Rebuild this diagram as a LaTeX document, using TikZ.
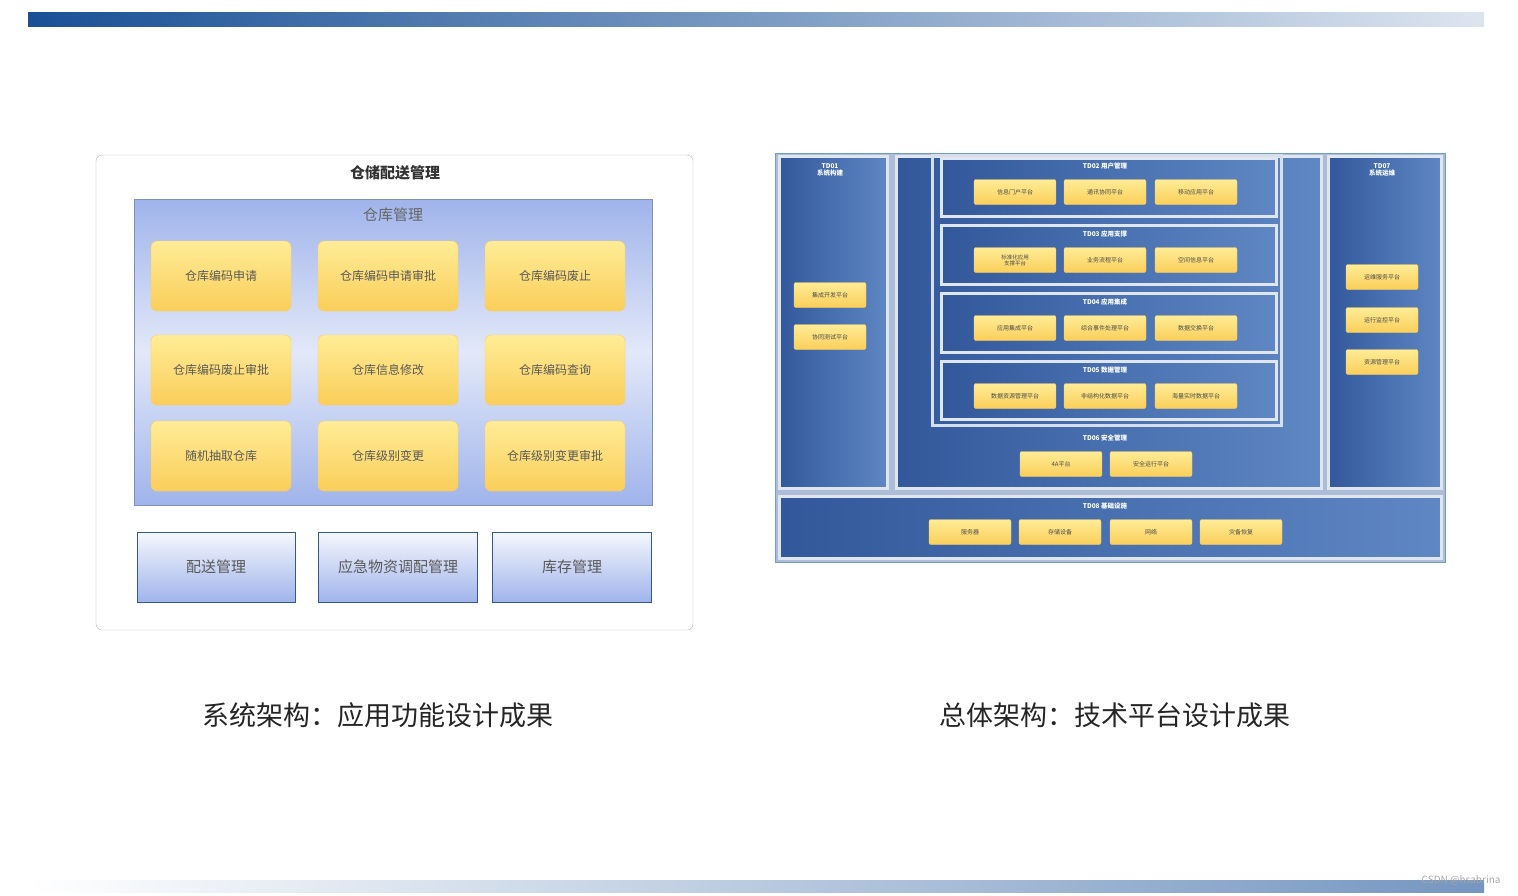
\documentclass[tikz,border=0pt]{standalone}
\usepackage{fontspec}
\setmainfont{Noto Sans CJK SC}
\usepackage{tikz}
\definecolor{ylight}{RGB}{255,236,150}
\definecolor{ydark}{RGB}{250,206,90}
\definecolor{pdark}{RGB}{50,88,155}
\definecolor{plight}{RGB}{95,135,195}
\definecolor{bdark}{RGB}{160,180,235}
\definecolor{barblue}{RGB}{25,80,150}
\tikzset{ybox/.style={draw=ydark, rounded corners=6, top color=ylight, bottom color=ydark, inner sep=0pt, text=black!65}}
\tikzset{bbox/.style={draw=pdark, top color=white!90!bdark, bottom color=bdark, inner sep=0pt, text=black!65}}
\tikzset{panel/.style={draw=white!85!pdark, line width=2.5pt, left color=pdark, right color=plight, inner sep=0pt}}
\tikzset{sbox/.style={draw=ydark, rounded corners=2, top color=ylight, bottom color=ydark, inner sep=0pt, minimum width=82, minimum height=25, text=black!70, font=\fontsize{6}{7}\selectfont}}
\tikzset{ttl/.style={text=white, font=\fontsize{6.5}{7}\selectfont\bfseries, align=center}}

\begin{document}
\begin{tikzpicture}[x=1pt, y=-1pt]
\useasboundingbox (0,0) rectangle (1518,895);
\fill[white] (0,0) rectangle (1518,895);

% bars
\shade[left color=barblue, right color=barblue!15] (28,12) rectangle (1484,26);
\shade[left color=white, right color=barblue!60] (28,880) rectangle (1484,892);

% left diagram
\draw[black!30, rounded corners=6, fill=white] (96,155) rectangle (693,630);
\node[text=black!80] (store) at (395,173) {\fontsize{15}{16}\selectfont\bfseries 仓储配送管理};
\shade[top color=bdark, bottom color=bdark, middle color=bdark!30] (134,199) rectangle (652,505);
\draw[bdark!80!black] (134,199) rectangle (652,505);
\node[text=black!60] (depot) at (393,215) {\fontsize{15}{16}\selectfont 仓库管理};

\node[ybox, minimum width=140, minimum height=70] (a1) at (221,276) {\fontsize{12}{14}\selectfont 仓库编码申请};
\node[ybox, minimum width=140, minimum height=70] (a2) at (388,276) {\fontsize{12}{14}\selectfont 仓库编码申请审批};
\node[ybox, minimum width=140, minimum height=70] (a3) at (555,276) {\fontsize{12}{14}\selectfont 仓库编码废止};
\node[ybox, minimum width=140, minimum height=70] (b1) at (221,370) {\fontsize{12}{14}\selectfont 仓库编码废止审批};
\node[ybox, minimum width=140, minimum height=70] (b2) at (388,370) {\fontsize{12}{14}\selectfont 仓库信息修改};
\node[ybox, minimum width=140, minimum height=70] (b3) at (555,370) {\fontsize{12}{14}\selectfont 仓库编码查询};
\node[ybox, minimum width=140, minimum height=70] (c1) at (221,456) {\fontsize{12}{14}\selectfont 随机抽取仓库};
\node[ybox, minimum width=140, minimum height=70] (c2) at (388,456) {\fontsize{12}{14}\selectfont 仓库级别变更};
\node[ybox, minimum width=140, minimum height=70] (c3) at (555,456) {\fontsize{12}{14}\selectfont 仓库级别变更审批};

\node[bbox, minimum width=158, minimum height=70] (deliv) at (216,567) {\fontsize{15}{16}\selectfont 配送管理};
\node[bbox, minimum width=159, minimum height=70] (emerg) at (398,567) {\fontsize{15}{16}\selectfont 应急物资调配管理};
\node[bbox, minimum width=159, minimum height=70] (stock) at (572,567) {\fontsize{15}{16}\selectfont 库存管理};

% right diagram
\draw[cyan!40!gray, line width=1pt, fill=white!60!pdark] (775,153) rectangle (1445,562);
\node[panel, minimum width=108, minimum height=332, anchor=north west] (td1) at (778,155) {};
\node[panel, minimum width=425, minimum height=332, anchor=north west] (mid) at (895,155) {};
\node[panel, minimum width=113, minimum height=332, anchor=north west] (td7) at (1327,155) {};
\node[panel, minimum width=662, minimum height=62, anchor=north west] (td8) at (778,495) {};
\draw[white!80!pdark, line width=3pt] (932,155) rectangle (1281,425);
\node[panel, minimum width=335, minimum height=58, anchor=north west] (td2) at (940,157) {};
\node[panel, minimum width=335, minimum height=59, anchor=north west] (td3) at (940,224) {};
\node[panel, minimum width=335, minimum height=59, anchor=north west] (td4) at (940,292) {};
\node[panel, minimum width=335, minimum height=58, anchor=north west] (td5) at (940,360) {};

\node[ttl] (t1) at (830,170) {TD01\\系统构建};
\node[ttl] (t7) at (1382,170) {TD07\\系统运维};
\node[ttl] (t2) at (1105,166) {TD02 用户管理};
\node[ttl] (t3) at (1105,234) {TD03 应用支撑};
\node[ttl] (t4) at (1105,302) {TD04 应用集成};
\node[ttl] (t5) at (1105,370) {TD05 数据管理};
\node[ttl] (t6) at (1105,438) {TD06 安全管理};
\node[ttl] (t8) at (1105,506) {TD08 基础设施};

\node[sbox, minimum width=72] (s11) at (830,295) {集成开发平台};
\node[sbox, minimum width=72] (s12) at (830,337) {协同测试平台};
\node[sbox] (s21) at (1015,192) {信息门户平台};
\node[sbox] (s22) at (1105,192) {通讯协同平台};
\node[sbox] (s23) at (1196,192) {移动应用平台};
\node[sbox, align=center, font=\fontsize{5.5}{6}\selectfont] (s31) at (1015,260) {标准化应用\\支撑平台};
\node[sbox] (s32) at (1105,260) {业务流程平台};
\node[sbox] (s33) at (1196,260) {空间信息平台};
\node[sbox] (s41) at (1015,328) {应用集成平台};
\node[sbox] (s42) at (1105,328) {综合事件处理平台};
\node[sbox] (s43) at (1196,328) {数据交换平台};
\node[sbox] (s51) at (1015,396) {数据资源管理平台};
\node[sbox] (s52) at (1105,396) {非结构化数据平台};
\node[sbox] (s53) at (1196,396) {海量实时数据平台};
\node[sbox] (s61) at (1061,464) {4A平台};
\node[sbox] (s62) at (1151,464) {安全运行平台};
\node[sbox, minimum width=72] (s71) at (1382,277) {运维服务平台};
\node[sbox, minimum width=72] (s72) at (1382,320) {运行监控平台};
\node[sbox, minimum width=72] (s73) at (1382,362) {资源管理平台};
\node[sbox] (s81) at (970,532) {服务器};
\node[sbox] (s82) at (1060,532) {存储设备};
\node[sbox] (s83) at (1151,532) {网络};
\node[sbox] (s84) at (1241,532) {灾备恢复};

% captions
\node[text=black!85] (cap1) at (378,715) {\fontsize{27}{30}\selectfont 系统架构：应用功能设计成果};
\node[text=black!85] (cap2) at (1115,715) {\fontsize{27}{30}\selectfont 总体架构：技术平台设计成果};
\node[text=black!35, anchor=east] (mark) at (1504,880) {\fontsize{10}{11}\selectfont CSDN @hsabrina};

\end{tikzpicture}
\end{document}
